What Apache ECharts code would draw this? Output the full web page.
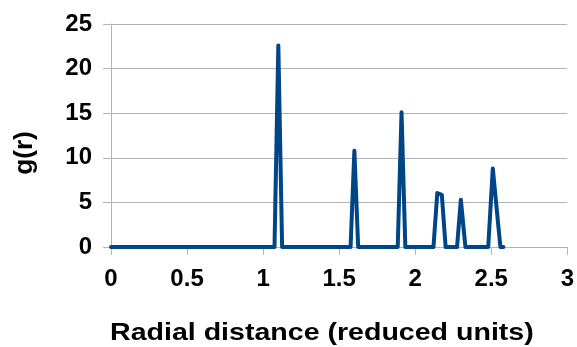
<!DOCTYPE html>
<html>
<head>
<meta charset="utf-8">
<script src="https://cdn.jsdelivr.net/npm/echarts@6/dist/echarts.min.js"></script>
<style>
  html, body { margin: 0; padding: 0; background: #fff; }
  #chart { width: 577px; height: 347px; }
</style>
</head>
<body>
<div id="chart"></div>
<script>
// radial distance (reduced units) and g(r)
const radius = [0, 1.075, 1.1, 1.125, 1.575, 1.6, 1.625, 1.885, 1.91, 1.935,
  2.12, 2.145, 2.175, 2.2, 2.275, 2.3, 2.33, 2.48, 2.51, 2.56, 2.58];
const gr = [0, 0, 22.6, 0, 0, 10.8, 0, 0, 15.1, 0,
  0, 6.05, 5.85, 0, 0, 5.3, 0, 0, 8.8, 0, 0];

const xTicks = { min: 0, max: 3, interval: 0.5 };
const yTicks = { min: 0, max: 25, interval: 5 };

const xTitle = "Radial distance (reduced units)";
const yTitle = "g(r)";

const font = "Liberation Sans";
const gridColor = "#b3b3b3";

const chart = echarts.init(document.getElementById("chart"));

const option = {
  backgroundColor: "#fff",
  animation: false,
  textStyle: { fontFamily: font },
  // axis titles look a bit wider than the font, so stretch them a little
  graphic: [
    {
      type: "text",
      x: 110,
      y: 333,
      scaleX: 1.19,
      style: {
        text: xTitle,
        font: 'bold 24px "Liberation Sans"',
        fill: "#000",
        textAlign: "left",
        textVerticalAlign: "middle",
      },
    },
    {
      type: "text",
      x: 25,
      y: 153,
      rotation: Math.PI / 2,
      scaleX: 1.05,
      style: {
        text: yTitle,
        font: 'bold 25px "Liberation Sans"',
        fill: "#000",
        textAlign: "center",
        textVerticalAlign: "middle",
      },
    },
  ],
  grid: { left: 111, right: 9, top: 24, bottom: 100 },
  xAxis: {
    type: "value",
    min: xTicks.min,
    max: xTicks.max,
    interval: xTicks.interval,
    axisLine: { show: true, onZero: false, lineStyle: { color: gridColor } },
    axisTick: { show: true, length: 8, lineStyle: { color: gridColor } },
    splitLine: { show: false },
    axisLabel: {
      color: "#000",
      fontSize: 24,
      fontWeight: "bold",
      fontFamily: font,
      margin: 20,
    },
  },
  yAxis: {
    type: "value",
    min: yTicks.min,
    max: yTicks.max,
    interval: yTicks.interval,
    axisLine: { show: true, lineStyle: { color: gridColor } },
    axisTick: { show: true, length: 8, lineStyle: { color: gridColor } },
    splitLine: { show: true, lineStyle: { color: gridColor, width: 1 } },
    axisLabel: {
      color: "#000",
      fontSize: 24,
      fontWeight: "bold",
      fontFamily: font,
      margin: 19,
    },
  },
  series: [
    {
      type: "line",
      data: radius.map((r, i) => [r, gr[i]]),
      symbol: "none",
      lineStyle: { color: "#004586", width: 4, join: "round", cap: "round" },
    },
  ],
};

chart.setOption(option);
</script>
</body>
</html>
